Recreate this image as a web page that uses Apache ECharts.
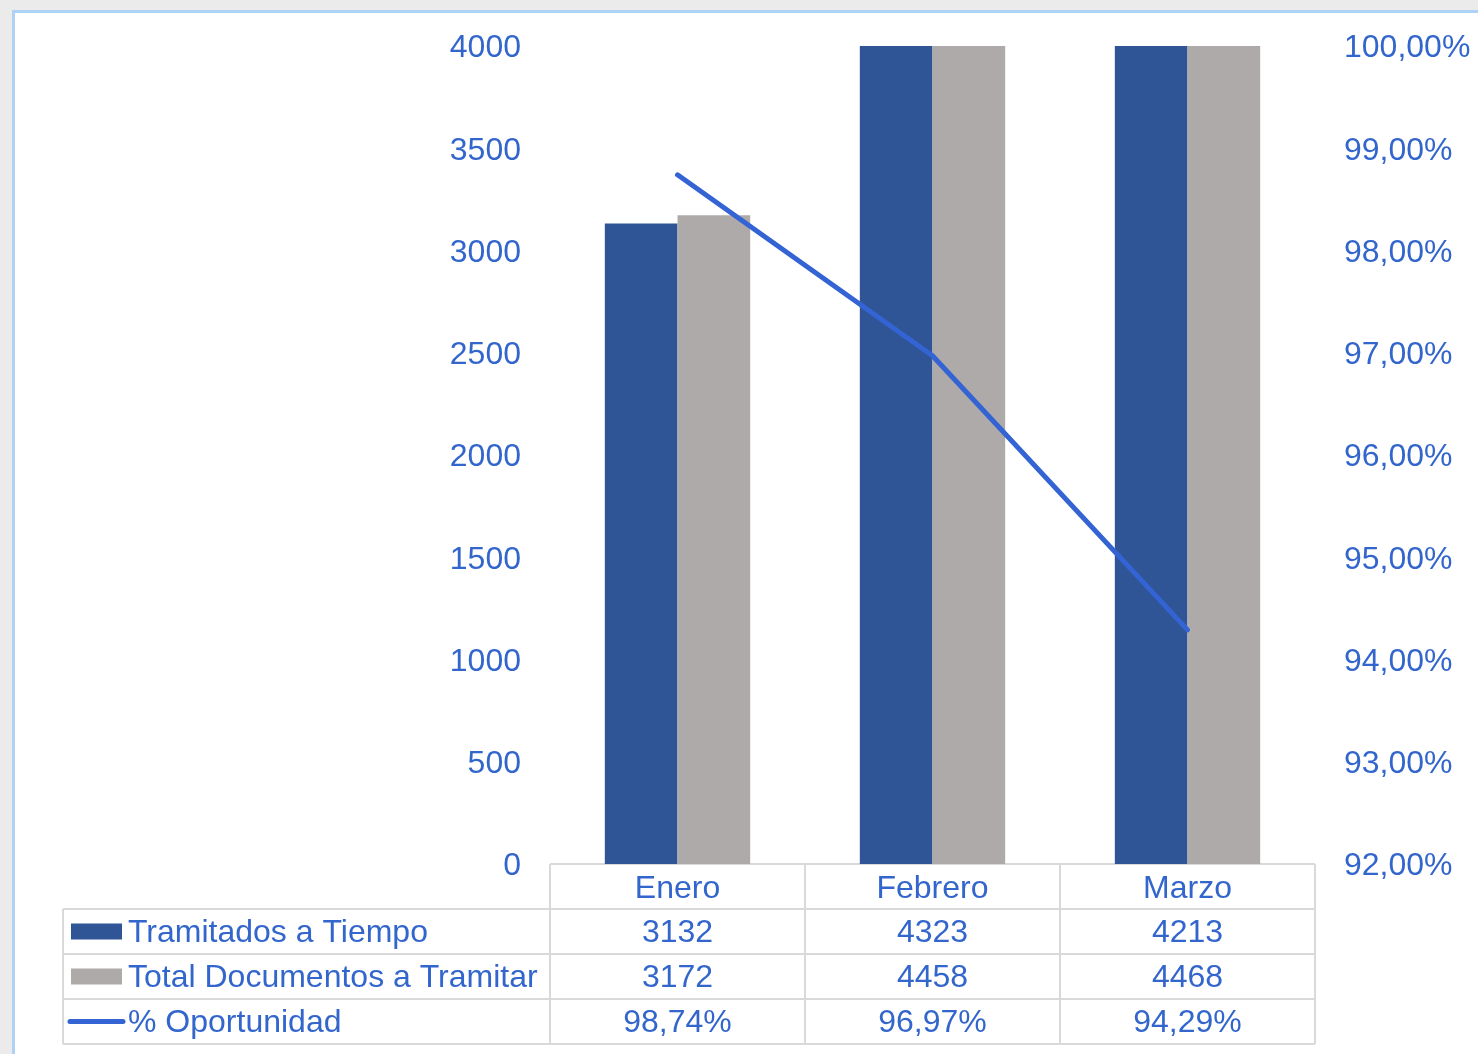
<!DOCTYPE html>
<html>
<head>
<meta charset="utf-8">
<script src="https://cdn.jsdelivr.net/npm/echarts@6/dist/echarts.min.js"></script>
<style>
  html, body { margin: 0; padding: 0; width: 1478px; height: 1054px; overflow: hidden; background: #ebebeb; }
  #frame { position: absolute; left: 12px; top: 10px; width: 1500px; height: 1100px; background: #ffffff; border: 3px solid #aed2f3; box-sizing: border-box; }
  #main { position: absolute; left: 0; top: 0; width: 1478px; height: 1054px; }
</style>
</head>
<body>
<div id="frame"></div>
<div id="main"></div>
<script>
const categories = ['Enero', 'Febrero', 'Marzo'];
const tramitados = [3132, 4323, 4213];
const totalDocs = [3172, 4458, 4468];
const oportunidad = [98.74, 96.97, 94.29];
const seriesNames = ['Tramitados a Tiempo', 'Total Documentos a Tramitar', '% Oportunidad'];

const TXT = '#3366cc';
const BLUE = '#2f5597';
const GRAY = '#aeaaaa';
const LINE = '#3464d4';
const GRID = '#d9d9d9';
const FONT = 'Liberation Sans';
const FS = 32;

const pct = v => v.toFixed(2).replace('.', ',') + '%';

const chart = echarts.init(document.getElementById('main'), null, { renderer: 'canvas' });
chart.setOption({
  backgroundColor: 'transparent',
  animation: false,
  textStyle: { fontFamily: FONT },
  grid: { left: 550, right: 163, top: 46, bottom: 190, containLabel: false },
  xAxis: {
    type: 'category',
    data: categories,
    axisLine: { show: false },
    axisTick: { show: false },
    axisLabel: { color: TXT, fontSize: FS, fontFamily: FONT, margin: 9 }
  },
  yAxis: [
    {
      type: 'value', min: 0, max: 4000, interval: 500, position: 'left',
      splitLine: { show: false }, axisLine: { show: false }, axisTick: { show: false },
      axisLabel: { color: TXT, fontSize: FS, fontFamily: FONT, margin: 29,
        formatter: v => '{a|' + v + '}', rich: { a: { color: TXT, fontSize: FS, fontFamily: FONT, padding: [5, 0, 0, 0] } } }
    },
    {
      type: 'value', min: 92, max: 100, interval: 1, position: 'right',
      splitLine: { show: false }, axisLine: { show: false }, axisTick: { show: false },
      axisLabel: { color: TXT, fontSize: FS, fontFamily: FONT, margin: 29,
        formatter: v => '{a|' + pct(v) + '}', rich: { a: { color: TXT, fontSize: FS, fontFamily: FONT, padding: [5, 0, 0, 0] } } }
    }
  ],
  series: [
    { name: seriesNames[0], type: 'bar', data: tramitados, itemStyle: { color: BLUE }, barGap: '0%', barCategoryGap: '43%', clip: true },
    { name: seriesNames[1], type: 'bar', data: totalDocs, itemStyle: { color: GRAY }, barGap: '0%', barCategoryGap: '43%', clip: true },
    { name: seriesNames[2], type: 'line', yAxisIndex: 1, data: oportunidad, symbol: 'none',
      lineStyle: { color: LINE, width: 5, cap: 'round', join: 'round' }, z: 5 }
  ]
});

// Data table under the plot, positioned from the axis scales
const cx = categories.map(c => chart.convertToPixel({ xAxisIndex: 0 }, c));
const band = cx[1] - cx[0];
const xL = cx[0] - band / 2;
const xR = cx[cx.length - 1] + band / 2;
const yTop = chart.convertToPixel({ yAxisIndex: 0 }, 0);
const rowH = 45;
const tableLeft = 63;
const rows = [
  tramitados.map(v => String(v)),
  totalDocs.map(v => String(v)),
  oportunidad.map(v => pct(v))
];
const g = [];
const line = (x1, y1, x2, y2) => g.push({ type: 'line', shape: { x1, y1, x2, y2 }, style: { stroke: GRID, lineWidth: 2 }, silent: true });
line(xL, yTop, xR, yTop);
for (let i = 1; i <= 4; i++) line(tableLeft, yTop + rowH * i, xR, yTop + rowH * i);
line(tableLeft, yTop + rowH, tableLeft, yTop + rowH * 4);
for (let i = 0; i <= categories.length; i++) {
  const x = xL + band * i;
  line(x, yTop, x, yTop + rowH * 4);
}
const fontStr = FS + 'px "' + FONT + '"';
rows.forEach((r, ri) => {
  const yc = yTop + rowH * (ri + 1) + rowH / 2 + 2;
  r.forEach((t, ci) => {
    g.push({ type: 'text', x: cx[ci], y: yc, style: { text: t, fill: TXT, font: fontStr, textAlign: 'center', textVerticalAlign: 'middle' } });
  });
  g.push({ type: 'text', x: 128, y: yc, style: { text: seriesNames[ri], fill: TXT, font: fontStr, textAlign: 'left', textVerticalAlign: 'middle' } });
});
const r1 = yTop + rowH * 1.5, r2 = yTop + rowH * 2.5, r3 = yTop + rowH * 3.5;
g.push({ type: 'rect', shape: { x: 71, y: r1 - 8, width: 51, height: 16 }, style: { fill: BLUE } });
g.push({ type: 'rect', shape: { x: 71, y: r2 - 8, width: 51, height: 16 }, style: { fill: GRAY } });
g.push({ type: 'line', shape: { x1: 70, y1: r3, x2: 123, y2: r3 }, style: { stroke: LINE, lineWidth: 5, lineCap: 'round' } });
chart.setOption({ graphic: g });
</script>
</body>
</html>
